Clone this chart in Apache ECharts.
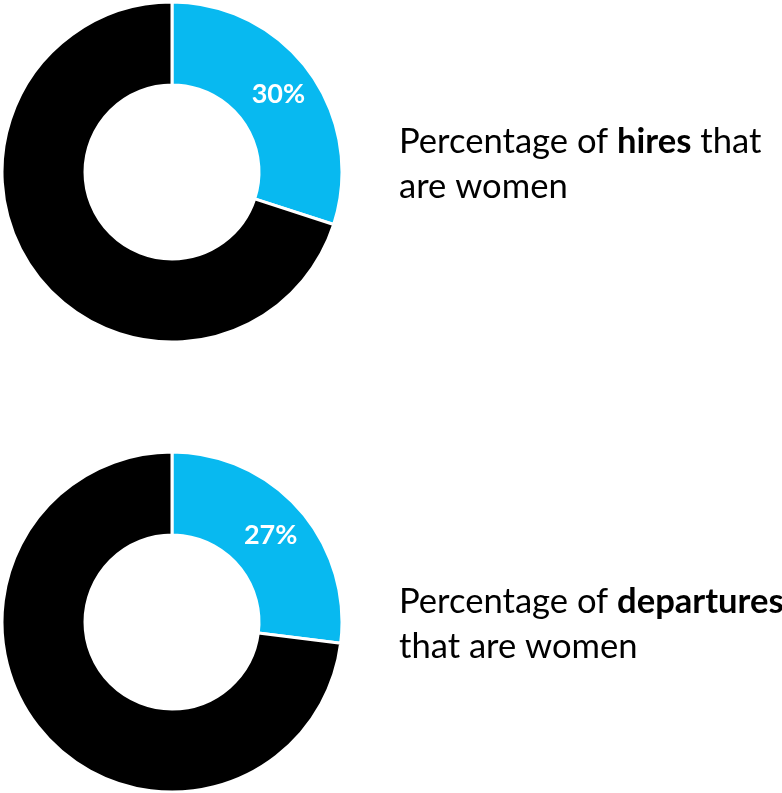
<!DOCTYPE html>
<html>
<head>
<meta charset="utf-8">
<script src="https://cdn.jsdelivr.net/npm/echarts@6/dist/echarts.min.js"></script>
<style>
  html, body { margin: 0; padding: 0; background: #fff; overflow: hidden; }
  #chart { width: 782px; height: 793px; }
</style>
</head>
<body>
<div id="chart"></div>
<script>
// Share of women among hires and departures
const segmentNames = ['Women', 'Men'];
const hiresValues = [30, 70];
const departuresValues = [27, 73];
const captionLead = 'Percentage of ';
const captionKeys = ['hires', 'departures'];

const colors = ['#08B9F0', '#000000'];
const fontFamily = 'Lato, "Noto Sans", sans-serif';

function donut(values, cx, cy) {
  return {
    type: 'pie',
    center: [cx, cy],
    radius: [87, 170],
    startAngle: 90,
    clockwise: true,
    silent: true,
    avoidLabelOverlap: false,
    itemStyle: { borderColor: '#ffffff', borderWidth: 3 },
    label: { show: false },
    labelLine: { show: false },
    emphasis: { disabled: true },
    data: values.map((v, i) => ({
      name: segmentNames[i],
      value: v,
      itemStyle: { color: colors[i] },
      label: i === 0 ? {
        show: true,
        position: 'inside',
        formatter: '{d}%',
        color: '#ffffff',
        fontFamily: fontFamily,
        fontWeight: 'bold',
        fontSize: 27
      } : { show: false }
    }))
  };
}

const captionRich = {
  n: { fontFamily: fontFamily, fontSize: 34.6, color: '#000000', lineHeight: 45 },
  b: { fontFamily: fontFamily, fontSize: 34.6, color: '#000000', fontWeight: 'bold', lineHeight: 45 }
};

const chart = echarts.init(document.getElementById('chart'), null, { renderer: 'canvas' });
chart.setOption({
  animation: false,
  backgroundColor: '#ffffff',
  series: [
    donut(hiresValues, 172, 172),
    donut(departuresValues, 172, 622)
  ],
  graphic: [
    {
      type: 'text',
      left: 399,
      top: 124,
      style: {
        text: '{n|' + captionLead + '}{b|' + captionKeys[0] + '}{n| that}\n{n|are women}',
        rich: captionRich
      }
    },
    {
      type: 'text',
      left: 399,
      top: 584,
      style: {
        text: '{n|' + captionLead + '}{b|' + captionKeys[1] + '}\n{n|that are women}',
        rich: captionRich
      }
    }
  ]
});
</script>
</body>
</html>
